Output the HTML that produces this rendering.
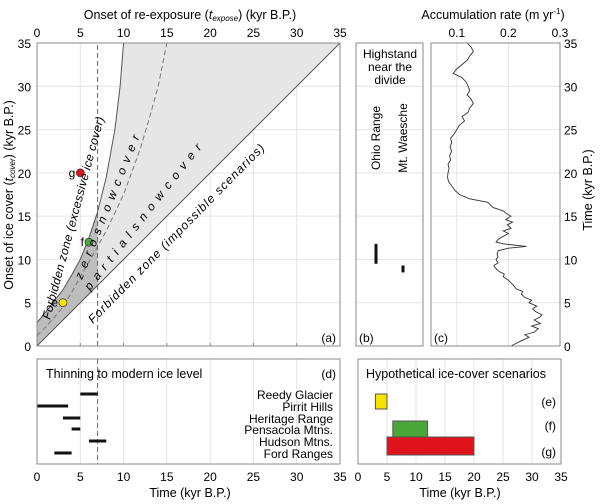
<!DOCTYPE html>
<html><head><meta charset="utf-8"><style>
body{margin:0;background:#fff}
svg{font-family:"Liberation Sans",sans-serif;display:block}
</style></head><body>
<svg id="c" width="600" height="504" viewBox="0 0 600 504" xmlns="http://www.w3.org/2000/svg"></svg>
<script>
// ---- data ----
const upperCurveX=[0,1,2,3,4,5,6,7,8,9,9.6,10];
const upperCurveY=[2.7,3.9,5.2,6.5,8.2,10,12.5,15.5,19.5,25,30,35];
const midCurveX=[0,1,2,3,4,5,6,7,8,9,10,11,12,13,14,15];
const midCurveY=[1.2,2.2,3.3,4.5,6.2,8,9.7,11.5,13.3,15.4,17.5,20.2,23,26.4,30,35];
const scenNames=["e","f","g"];
const scenExpose=[3,6,5];
const scenCover=[5,12,20];
const scenColors=["#f5e400","#4aa83a","#e0141c"];
const sites=["Reedy Glacier","Pirrit Hills","Heritage Range","Pensacola Mtns.","Hudson Mtns.","Ford Ranges"];
const siteStart=[5,0,3,4,6,2];
const siteEnd=[7,3.6,5,5,8,4];
const highNames=["Ohio Range","Mt. Waesche"];
const highStart=[9.5,8.5];
const highEnd=[11.8,9.3];
const accTime=[0,0.3,0.6,1,1.3,1.6,2,2.3,2.6,3,3.3,3.6,4,4.3,4.6,5,5.3,5.6,6,6.3,6.6,7,7.3,7.6,8,8.3,8.6,9,9.3,9.6,10,10.3,10.6,11,11.3,11.5,11.8,12,12.3,12.6,13,13.3,13.6,14,14.3,14.6,15,15.3,15.6,16,16.3,16.6,17,17.5,18,18.5,19,19.5,20,20.5,21,21.5,22,22.5,23,23.5,24,24.5,25,25.5,26,26.5,27,27.5,28,28.5,29,29.5,30,30.5,31,31.5,32,32.5,33,33.5,34,34.5,35];
const accRate=[0.205,0.215,0.225,0.24,0.232,0.25,0.258,0.245,0.262,0.25,0.26,0.265,0.252,0.247,0.255,0.24,0.245,0.232,0.225,0.228,0.215,0.21,0.205,0.2,0.19,0.192,0.182,0.175,0.172,0.18,0.176,0.18,0.178,0.18,0.2,0.235,0.19,0.176,0.18,0.188,0.2,0.19,0.205,0.198,0.208,0.195,0.205,0.196,0.19,0.17,0.165,0.16,0.125,0.105,0.096,0.09,0.084,0.082,0.083,0.085,0.083,0.088,0.086,0.09,0.087,0.09,0.088,0.095,0.1,0.105,0.115,0.11,0.122,0.125,0.132,0.128,0.12,0.125,0.122,0.118,0.11,0.093,0.1,0.11,0.12,0.125,0.132,0.128,0.12];
const xTicks=[0,5,10,15,20,25,30,35];
const accTicks=[0.1,0.2,0.3];

const S=document.getElementById('c');
const NS='http://www.w3.org/2000/svg';
function mk(t,a,p,txt){const e=document.createElementNS(NS,t);for(const k in a)e.setAttribute(k,a[k]);if(txt!==undefined)e.textContent=txt;(p||S).appendChild(e);return e;}
const G='#e4e4e4',AX='#888';
const ax=v=>37+v*303/35, ay=v=>346-v*303/35;
const by=ay;
const cx=v=>431+(v-0.05)*(560-431)/0.25;
const dx=v=>37+v*303/35;
const ex=v=>358+v*203/35;

// ---- Panel A ----
let gA=mk('g',{});


for(const t of xTicks){mk('line',{x1:ax(t),x2:ax(t),y1:ay(0),y2:ay(35),stroke:G},gA);mk('line',{x1:ax(0),x2:ax(35),y1:ay(t),y2:ay(t),stroke:G},gA);}
let pts=upperCurveX.map((x,i)=>ax(x)+','+ay(upperCurveY[i]));
let lp=mk('polygon',{points:[ax(0)+','+ay(0),...pts,ax(35)+','+ay(35)].join(' '),fill:'#e6e6e6'},gA);

let dk=[ax(0)+','+ay(0)];
upperCurveX.forEach((x,i)=>{if(x<=7)dk.push(ax(x)+','+ay(upperCurveY[i]));});
dk.push(ax(7)+','+ay(7));
let dp=mk('polygon',{points:dk.join(' '),fill:'#bdbdbd'},gA);

let uc=mk('polyline',{points:pts.join(' '),fill:'none',stroke:'#555','stroke-width':1},gA);

let mc=mk('polyline',{points:midCurveX.map((x,i)=>ax(x)+','+ay(midCurveY[i])).join(' '),fill:'none',stroke:'#777','stroke-dasharray':'5,3'},gA);

let dg=mk('line',{x1:ax(0),y1:ay(0),x2:ax(35),y2:ay(35),stroke:'#555'},gA);

let vd=mk('line',{x1:ax(7),x2:ax(7),y1:ay(0),y2:ay(35),stroke:'#666','stroke-dasharray':'5,3'},gA);

mk('rect',{x:ax(0),y:ay(35),width:303,height:303,fill:'none',stroke:AX},gA);
scenNames.forEach((n,i)=>{
 let c=mk('circle',{cx:ax(scenExpose[i]),cy:ay(scenCover[i]),r:4,fill:scenColors[i],stroke:'#333','stroke-width':0.7},gA);
 
 mk('text',{x:ax(scenExpose[i])-5,y:ay(scenCover[i])+4,'font-size':12,'text-anchor':'end'},gA,n);
});
function rt(x,y,ang,txt,name,ls){let t=mk('text',{x:x,y:y,'font-size':12,transform:`rotate(${ang} ${x} ${y})`,'font-style':'italic','letter-spacing':ls||0},gA,txt);}
rt(50,320,-75,'Forbidden zone (excessive ice cover)','label-forbidden-excessive',0.3);
rt(82,280,-68,'z e r o    s n o w    c o v e r','label-zero-snow',1.4);
rt(90,291,-52,'p a r t i a l    s n o w    c o v e r','label-partial-snow',1.4);
rt(93,324,-45.5,'Forbidden zone (impossible scenarios)','label-forbidden-impossible',1.1);
mk('text',{x:336,y:342,'font-size':12,'text-anchor':'end'},gA,'(a)');
for(const t of xTicks){
 mk('text',{x:ax(t),y:37,'font-size':12,'text-anchor':'middle'},gA,t);
 mk('text',{x:31,y:ay(t)+5,'font-size':12,'text-anchor':'end'},gA,t);
 mk('line',{x1:ax(t),x2:ax(t),y1:ay(0),y2:ay(0)-3,stroke:AX},gA);
}
let xt=mk('text',{x:190,y:19,'font-size':12.5,'text-anchor':'middle'},gA);

xt.innerHTML='Onset of re-exposure (<tspan font-style="italic">t</tspan><tspan font-size="8" font-style="italic" dy="2">expose</tspan><tspan dy="-2">) (kyr B.P.)</tspan>';
let yt=mk('text',{x:13,y:195,'font-size':12.5,'text-anchor':'middle',transform:'rotate(-90 13 195)'},gA);

yt.innerHTML='Onset of ice cover (<tspan font-style="italic">t</tspan><tspan font-size="8" font-style="italic" dy="2">cover</tspan><tspan dy="-2">) (kyr B.P.)</tspan>';

// ---- Panel B ----
let gB=mk('g',{});


for(const t of xTicks)mk('line',{x1:356,x2:423,y1:by(t),y2:by(t),stroke:G},gB);
mk('rect',{x:356,y:ay(35),width:67,height:303,fill:'none',stroke:AX},gB);
['Highstand','near the','divide'].forEach((s,i)=>mk('text',{x:390,y:58+i*13,'font-size':12,'text-anchor':'middle'},gB,s));
const bX=[376,403];
highNames.forEach((n,i)=>{
 let l=mk('line',{x1:bX[i],x2:bX[i],y1:by(highStart[i]),y2:by(highEnd[i]),stroke:'#111','stroke-width':3},gB);
 
 mk('text',{x:bX[i]+4,y:138,'font-size':12,'text-anchor':'middle',transform:`rotate(-90 ${bX[i]+4} 138)`},gB,n);
});
mk('text',{x:359,y:342,'font-size':12},gB,'(b)');

// ---- Panel C ----
let gC=mk('g',{});


for(const t of xTicks)mk('line',{x1:431,x2:560,y1:by(t),y2:by(t),stroke:G},gC);
for(const a of accTicks){mk('line',{x1:cx(a),x2:cx(a),y1:ay(0),y2:ay(35),stroke:G},gC);mk('text',{x:cx(a),y:37,'font-size':12,'text-anchor':'middle'},gC,a);}
let acc=mk('polyline',{points:accTime.map((t,i)=>cx(accRate[i])+','+by(t)).join(' '),fill:'none',stroke:'#333','stroke-width':0.9},gC);

mk('rect',{x:431,y:ay(35),width:129,height:303,fill:'none',stroke:AX},gC);
mk('text',{x:434,y:342,'font-size':12},gC,'(c)');
for(const t of xTicks)mk('text',{x:564,y:by(t)+5,'font-size':12},gC,t);
let at=mk('text',{x:493,y:19,'font-size':12.5,'text-anchor':'middle'},gC);
at.innerHTML='Accumulation rate (m yr<tspan font-size="8" dy="-5">-1</tspan><tspan dy="5">)</tspan>';

let rtt=mk('text',{x:592,y:190,'font-size':12.5,'text-anchor':'middle',transform:'rotate(-90 592 190)'},gC,'Time (kyr B.P.)');


// ---- Panel D ----
let gD=mk('g',{});


const rowY=[394,406,418,429,441,453];
for(const t of xTicks){mk('line',{x1:dx(t),x2:dx(t),y1:359,y2:464,stroke:G},gD);mk('text',{x:dx(t),y:481,'font-size':12,'text-anchor':'middle'},gD,t);}
mk('line',{x1:dx(7),x2:dx(7),y1:359,y2:464,stroke:'#666','stroke-dasharray':'5,3'},gD);
sites.forEach((s,i)=>{
 let l=mk('line',{x1:dx(siteStart[i]),x2:dx(siteEnd[i]),y1:rowY[i],y2:rowY[i],stroke:'#111','stroke-width':3},gD);
 
 mk('text',{x:333,y:rowY[i]+5,'font-size':12,'text-anchor':'end'},gD,s);
});
mk('rect',{x:37,y:359,width:303,height:105,fill:'none',stroke:AX},gD);
mk('text',{x:46,y:378,'font-size':12.5},gD,'Thinning to modern ice level');
mk('text',{x:336,y:378,'font-size':12,'text-anchor':'end'},gD,'(d)');
mk('text',{x:190,y:497,'font-size':12.5,'text-anchor':'middle'},gD,'Time (kyr B.P.)');

// ---- Panel E-G ----
let gE=mk('g',{});


for(const t of xTicks){mk('line',{x1:ex(t),x2:ex(t),y1:359,y2:464,stroke:G},gE);mk('text',{x:ex(t),y:481,'font-size':12,'text-anchor':'middle'},gE,t);}
const boxY=[394,421,437],boxH=[15,16,18];
scenNames.forEach((n,i)=>{
 let r=mk('rect',{x:ex(scenExpose[i]),y:boxY[i],width:ex(scenCover[i])-ex(scenExpose[i]),height:boxH[i],fill:scenColors[i],stroke:'#555'},gE);
 
 mk('text',{x:556,y:[406,430,456][i],'font-size':12,'text-anchor':'end'},gE,'('+n+')');
});
mk('rect',{x:358,y:359,width:203,height:105,fill:'none',stroke:AX},gE);
mk('text',{x:366,y:378,'font-size':12.5},gE,'Hypothetical ice-cover scenarios');
mk('text',{x:460,y:497,'font-size':12.5,'text-anchor':'middle'},gE,'Time (kyr B.P.)');
</script>
</body></html>
